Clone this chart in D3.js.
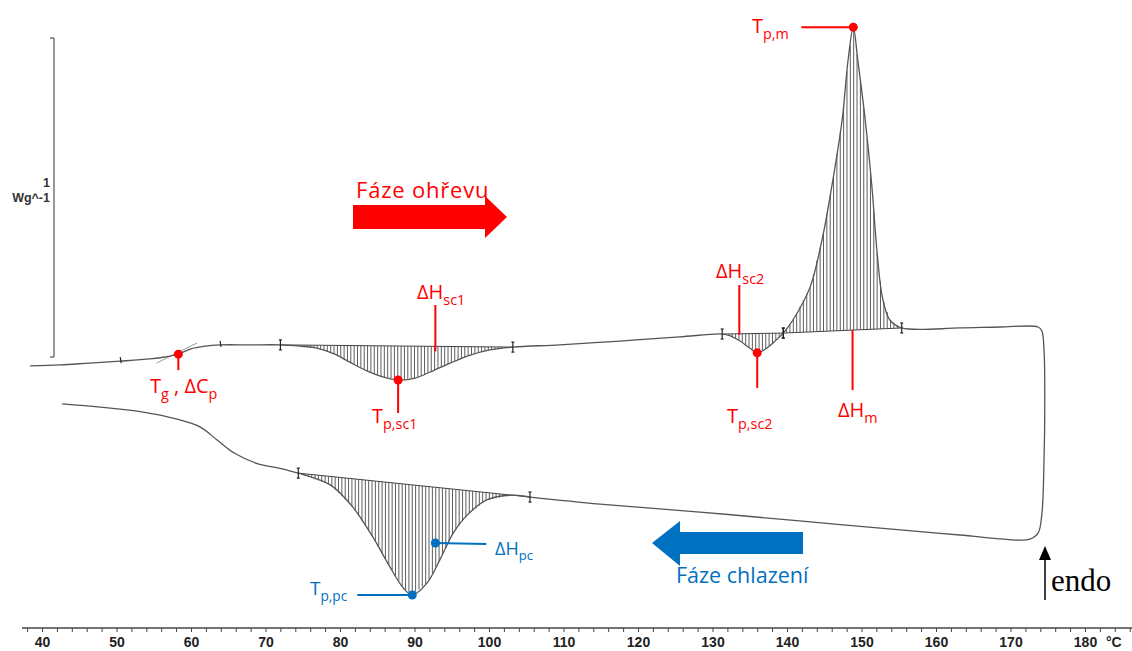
<!DOCTYPE html>
<html>
<head>
<meta charset="utf-8">
<script src="https://cdn.jsdelivr.net/npm/d3@7"></script>
<style>
  body { margin: 0; background: #fff; }
  svg { display: block; }
</style>
</head>
<body>
<svg id="dsc" width="1132" height="651"></svg>
<script>
// heating run: [temperature °C, heat flow W/g] (endo up)
var heating = [
  [38.4, -0.028], [42.4, -0.025], [46.4, -0.019], [50.5, -0.013], [54.5, -0.006],
  [56.5, 0.000], [58.3, 0.009], [59.9, 0.025], [61.9, 0.034], [63.9, 0.038],
  [67.9, 0.038], [72.0, 0.038], [74.6, 0.034], [76.9, 0.028], [79.3, 0.009],
  [81.3, -0.016], [83.4, -0.041], [85.4, -0.060], [87.8, -0.072], [90.1, -0.066],
  [92.1, -0.047], [94.8, -0.019], [97.5, 0.006], [100.1, 0.022], [103.2, 0.031],
  [109.5, 0.038], [117.6, 0.050], [125.6, 0.063], [131.3, 0.072], [132.4, 0.066],
  [133.7, 0.050], [135.0, 0.028], [136.0, 0.013], [137.1, 0.025], [138.4, 0.050],
  [139.5, 0.075], [140.8, 0.116], [143.1, 0.219], [144.7, 0.367], [146.0, 0.533],
  [147.4, 0.743], [148.2, 0.931], [148.9, 1.034], [149.5, 0.931], [150.5, 0.743],
  [151.4, 0.533], [152.1, 0.326], [152.8, 0.188], [153.8, 0.116], [155.4, 0.091],
  [163.2, 0.091], [168.6, 0.094], [173.7, 0.094]
];
// isothermal hold / switch to cooling
var turn = [
  [174.2, 0.082], [174.5, 0.022], [174.6, -0.135], [174.5, -0.323],
  [174.2, -0.495], [173.7, -0.552], [172.6, -0.571], [171.3, -0.574]
];
// cooling run (temperature decreasing)
var cooling = [
  [163.2, -0.558], [155.2, -0.542], [141.7, -0.514], [128.3, -0.486], [114.9, -0.461],
  [105.5, -0.439], [103.2, -0.433], [99.7, -0.448], [97.1, -0.495], [95.2, -0.552],
  [93.4, -0.636], [91.7, -0.708], [89.7, -0.746], [88.5, -0.724], [86.7, -0.658],
  [84.4, -0.564], [81.7, -0.470], [78.7, -0.401], [74.4, -0.364], [71.8, -0.348],
  [69.0, -0.335], [65.8, -0.301], [63.5, -0.260], [61.2, -0.219], [58.0, -0.194],
  [53.4, -0.172], [47.8, -0.157], [42.7, -0.147]
];
// tangent used for the glass transition
var tgTangent = [[55.4, -0.019], [60.8, 0.044]];
var tgLimits = [50.5, 63.9];

// integration limits of the evaluated peaks
var peakNames = ["sc1", "sc2", "m", "pc"];
var peakRuns = ["heating", "heating", "heating", "cooling"];
var peakFrom = [72.0, 131.3, 139.5, 74.4];
var peakTo = [103.2, 139.5, 155.4, 105.5];

// characteristic temperatures
var tgTemp = 58.3, tpSc1 = 87.8, tpSc2 = 136.0, tpM = 148.9, tpPc = 89.7;
var dhSc1 = 92.8, dhSc2 = 133.6, dhM = 148.8, dhPc = 92.8;

var axisTicks = d3.range(38, 187, 2);
var axisLabels = d3.range(40, 181, 10);

var x = d3.scaleLinear().domain([40, 180]).range([42, 1085]);
var y = d3.scaleLinear().domain([0, 1]).range([357, 38]);

var svg = d3.select("#dsc");
var red = "#ff0000", blue = "#0070c0";

var runs = {
  heating: heating,
  cooling: cooling.slice().sort(function (a, b) { return a[0] - b[0]; })
};

function flowAt(pts, t) {
  var i = d3.bisector(function (d) { return d[0]; }).left(pts, t);
  if (i <= 0) return pts[0][1];
  if (i >= pts.length) return pts[pts.length - 1][1];
  var a = pts[i - 1], b = pts[i];
  return a[1] + (b[1] - a[1]) * (t - a[0]) / (b[0] - a[0]);
}
function baseAt(k, t) {
  var pts = runs[peakRuns[k]];
  var t0 = peakFrom[k], t1 = peakTo[k];
  var b0 = flowAt(pts, t0), b1 = flowAt(pts, t1);
  return b0 + (b1 - b0) * (t - t0) / (t1 - t0);
}

// hatching of peak areas
var hatch = svg.append("g").attr("stroke", "#333").attr("stroke-width", 0.8);
peakNames.forEach(function (name, k) {
  var pts = runs[peakRuns[k]];
  var t0 = peakFrom[k], t1 = peakTo[k];
  d3.range(t0 + 0.45, t1, 0.45).forEach(function (t) {
    hatch.append("line")
      .attr("x1", x(t)).attr("x2", x(t))
      .attr("y1", y(baseAt(k, t))).attr("y2", y(flowAt(pts, t)));
  });
  hatch.append("line")
    .attr("x1", x(t0)).attr("x2", x(t1))
    .attr("y1", y(baseAt(k, t0))).attr("y2", y(baseAt(k, t1)))
    .attr("stroke", "#444").attr("stroke-width", 1);
});

// tg tangent
svg.append("line")
  .attr("x1", x(tgTangent[0][0])).attr("y1", y(tgTangent[0][1]))
  .attr("x2", x(tgTangent[1][0])).attr("y2", y(tgTangent[1][1]))
  .attr("stroke", "#999").attr("stroke-width", 1);

// the measured trace
var line = d3.line()
  .x(function (d) { return x(d[0]); })
  .y(function (d) { return y(d[1]); })
  .curve(d3.curveCatmullRom.alpha(0.5));

svg.append("path")
  .datum(heating.concat(turn, cooling))
  .attr("d", line)
  .attr("fill", "none")
  .attr("stroke", "#555")
  .attr("stroke-width", 1.3);

// integration limit brackets
var marks = svg.append("g").attr("stroke", "#222").attr("stroke-width", 1.2);
peakNames.forEach(function (name, k) {
  var pts = runs[peakRuns[k]];
  [peakFrom[k], peakTo[k]].forEach(function (t) {
    var px = x(t), py = y(flowAt(pts, t));
    marks.append("line").attr("x1", px).attr("x2", px).attr("y1", py - 5).attr("y2", py + 5);
    marks.append("line").attr("x1", px - 1.5).attr("x2", px + 1.5).attr("y1", py - 5).attr("y2", py - 5);
    marks.append("line").attr("x1", px - 1.5).attr("x2", px + 1.5).attr("y1", py + 5).attr("y2", py + 5);
  });
});
tgLimits.forEach(function (t) {
  var px = x(t), py = y(flowAt(heating, t));
  marks.append("line").attr("x1", px).attr("x2", px + 1).attr("y1", py - 4).attr("y2", py + 2);
});

// scale bar
var bar = svg.append("g").attr("stroke", "#333").attr("stroke-width", 1);
bar.append("line").attr("x1", 54).attr("x2", 54).attr("y1", y(1)).attr("y2", y(0));
bar.append("line").attr("x1", 50).attr("x2", 54).attr("y1", y(1)).attr("y2", y(1));
bar.append("line").attr("x1", 50).attr("x2", 54).attr("y1", y(0)).attr("y2", y(0));
svg.append("text").attr("x", 50).attr("y", 187).attr("text-anchor", "end")
  .attr("font-family", "Liberation Sans, Arial, sans-serif").attr("font-size", 12.5)
  .attr("font-weight", "bold").attr("fill", "#333").text("1");
svg.append("text").attr("x", 50).attr("y", 202).attr("text-anchor", "end")
  .attr("font-family", "Liberation Sans, Arial, sans-serif").attr("font-size", 12.5)
  .attr("font-weight", "bold").attr("fill", "#333").text("Wg^-1");

// temperature axis
var axis = d3.axisBottom(x)
  .tickValues(axisTicks)
  .tickSize(4)
  .tickPadding(5)
  .tickFormat(function (d) { return axisLabels.indexOf(d) >= 0 ? d : ""; });
var gx = svg.append("g").attr("transform", "translate(0,628)").call(axis);
gx.select(".domain").remove();
gx.selectAll(".tick line").attr("stroke", "#444");
gx.selectAll(".tick text")
  .attr("font-family", "Liberation Sans, Arial, sans-serif")
  .attr("font-size", 14).attr("font-weight", "bold").attr("fill", "#222");
gx.append("line").attr("x1", 22).attr("x2", 1132).attr("y1", 0).attr("y2", 0)
  .attr("stroke", "#444").attr("stroke-width", 1.5);
svg.append("text").attr("x", 1106).attr("y", 647)
  .attr("font-family", "Liberation Sans, Arial, sans-serif")
  .attr("font-size", 14).attr("font-weight", "bold").attr("fill", "#222").text("°C");

// annotations
function label(px, py, parts, color, size) {
  var t = svg.append("text").attr("x", px).attr("y", py)
    .attr("font-family", "Open Sans, sans-serif").attr("font-size", size).attr("fill", color);
  var low = false;
  parts.forEach(function (p) {
    var s = t.append("tspan").text(p[0]);
    if (p[1] && !low) { s.attr("dy", size * 0.3).attr("font-size", size * 0.72); low = true; }
    else if (p[1]) { s.attr("font-size", size * 0.72); }
    else if (low) { s.attr("dy", -size * 0.3); low = false; }
  });
}
function dot(px, py, color) {
  svg.append("circle").attr("cx", px).attr("cy", py).attr("r", 4.5).attr("fill", color);
}
function lead(x1, y1, x2, y2, color) {
  svg.append("line").attr("x1", x1).attr("y1", y1).attr("x2", x2).attr("y2", y2)
    .attr("stroke", color).attr("stroke-width", 2);
}

var p;
p = [x(tgTemp), y(flowAt(heating, tgTemp))];
lead(p[0], p[1], p[0], p[1] + 16, red); dot(p[0], p[1], red);
label(150, 393, [["T"], ["g", 1], [" , \u0394C"], ["p", 1]], red, 20);

p = [x(tpSc1), y(flowAt(heating, tpSc1))];
lead(p[0], p[1], p[0], p[1] + 33, red); dot(p[0], p[1], red);
label(372, 423, [["T"], ["p,sc1", 1]], red, 20);

p = [x(dhSc1), y(baseAt(0, dhSc1))];
lead(p[0], 305, p[0], p[1] + 5, red);
label(417, 299, [["\u0394H"], ["sc1", 1]], red, 20);

p = [x(dhSc2), y(baseAt(1, dhSc2))];
lead(p[0], 285, p[0], p[1] + 1, red);
label(716, 278, [["\u0394H"], ["sc2", 1]], red, 20);

p = [x(tpSc2), y(flowAt(heating, tpSc2))];
lead(p[0], p[1], p[0], p[1] + 35, red); dot(p[0], p[1], red);
label(727, 423, [["T"], ["p,sc2", 1]], red, 20);

p = [x(dhM), y(baseAt(2, dhM))];
lead(p[0], p[1], p[0], p[1] + 60, red);
label(838, 417, [["\u0394H"], ["m", 1]], red, 20);

p = [x(tpM), y(flowAt(heating, tpM))];
lead(p[0] - 52, p[1], p[0], p[1], red); dot(p[0], p[1], red);
label(752, 33, [["T"], ["p,m", 1]], red, 20);

p = [x(dhPc), y(-0.583)];
lead(p[0], p[1], p[0] + 51, p[1] + 1, blue); dot(p[0], p[1], blue);
label(495, 555, [["\u0394H"], ["pc", 1]], blue, 18);

p = [x(tpPc), y(flowAt(runs.cooling, tpPc))];
lead(p[0] - 55, p[1], p[0], p[1], blue); dot(p[0], p[1], blue);
label(310, 595, [["T"], ["p,pc", 1]], blue, 19);

// direction arrows
svg.append("path")
  .attr("d", "M353,205 L485,205 L485,196 L507,217 L485,238 L485,229 L353,229 Z")
  .attr("fill", red);
svg.append("text").attr("x", 356).attr("y", 198)
  .attr("font-family", "Open Sans, sans-serif").attr("font-size", 22)
  .attr("letter-spacing", 0.8).attr("fill", red).text("Fáze ohřevu");

svg.append("path")
  .attr("d", "M803,532 L680,532 L680,521 L652,543 L680,566 L680,554 L803,554 Z")
  .attr("fill", blue);
svg.append("text").attr("x", 676).attr("y", 583)
  .attr("font-family", "Open Sans, sans-serif").attr("font-size", 21.5)
  .attr("fill", blue).text("Fáze chlazení");

svg.append("line").attr("x1", 1045).attr("x2", 1045).attr("y1", 600).attr("y2", 556)
  .attr("stroke", "#000").attr("stroke-width", 1.5);
svg.append("path").attr("d", "M1045,546 L1051,560 L1039,560 Z").attr("fill", "#000");
svg.append("text").attr("x", 1051).attr("y", 591)
  .attr("font-family", "Liberation Serif, Times New Roman, serif").attr("font-size", 31)
  .attr("fill", "#000").text("endo");
</script>
</body>
</html>
